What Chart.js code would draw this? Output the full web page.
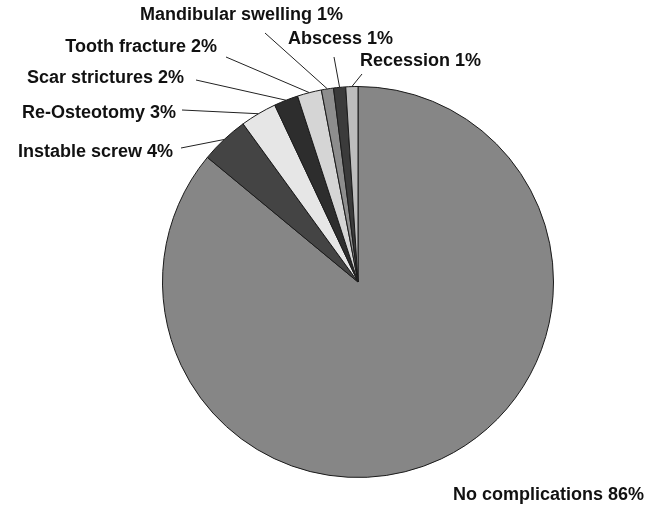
<!DOCTYPE html>
<html>
<head>
<meta charset="utf-8">
<script src="https://cdn.jsdelivr.net/npm/chart.js@4"></script>
<style>
  html, body { margin: 0; padding: 0; background: #fff; }
  #wrap { width: 668px; height: 505px; }
</style>
</head>
<body>
<div id="wrap"><canvas id="myChart" width="668" height="505"></canvas></div>
<script>
//categories and values, clockwise from 12 o'clock
var categories = ["No complications", "Instable screw", "Re-Osteotomy", "Scar strictures", "Tooth fracture", "Mandibular swelling", "Abscess", "Recession"];
var percents = [86, 4, 3, 2, 2, 1, 1, 1];
var sliceColors = ['#868686', '#444444', '#e6e6e6', '#2d2d2d', '#d5d5d5', '#8d8d8d', '#3b3b3b', '#bdbdbd'];

//where each label sits (text anchor + start of its leader line)
var labelPos = [
  { x: 453, y: 495, align: 'left' },
  { x: 173, y: 152, align: 'right', lx: 181, ly: 148 },
  { x: 176, y: 113, align: 'right', lx: 182, ly: 110 },
  { x: 184, y: 78,  align: 'right', lx: 196, ly: 80 },
  { x: 217, y: 47,  align: 'right', lx: 226, ly: 57 },
  { x: 343, y: 15,  align: 'right', lx: 265, ly: 33 },
  { x: 288, y: 39,  align: 'left',  lx: 334, ly: 57 },
  { x: 360, y: 61,  align: 'left',  lx: 362, ly: 74 }
];

//plugin that writes the outside labels and the leader lines
var pieLabels = {
  id: 'pieLabels',
  afterDatasetsDraw: function(chart) {
    var c = chart.ctx;
    var arcs = chart.getDatasetMeta(0).data;
    c.save();
    c.font = 'bold 18px "Liberation Sans", Arial, sans-serif';
    c.fillStyle = '#111';
    c.textBaseline = 'middle';
    c.strokeStyle = '#222';
    c.lineWidth = 1;
    arcs.forEach(function(arc, i) {
      var p = labelPos[i];
      var props = arc.getProps(['x', 'y', 'startAngle', 'endAngle', 'outerRadius'], true);
      if (p.lx !== undefined) {
        var mid = (props.startAngle + props.endAngle) / 2;
        var ex = props.x + Math.cos(mid) * props.outerRadius;
        var ey = props.y + Math.sin(mid) * props.outerRadius;
        c.beginPath();
        c.moveTo(p.lx, p.ly);
        c.lineTo(ex, ey);
        c.stroke();
      }
      c.textAlign = p.align;
      c.fillText(categories[i] + ' ' + percents[i] + '%', p.x, p.y);
    });
    c.restore();
  }
};

var ctx = document.getElementById('myChart').getContext('2d');

var myChart = new Chart(ctx, {
  type: 'pie',
  data: {
    labels: categories,
    datasets: [{
      data: percents,
      backgroundColor: sliceColors,
      borderColor: '#1a1a1a',
      borderWidth: 1
    }]
  },
  options: {
    responsive: false,
    animation: false,
    layout: {
      padding: { top: 86, bottom: 27, left: 161, right: 113 }
    },
    plugins: {
      legend: { display: false },
      tooltip: { enabled: false }
    }
  },
  plugins: [pieLabels]
});
</script>
</body>
</html>
